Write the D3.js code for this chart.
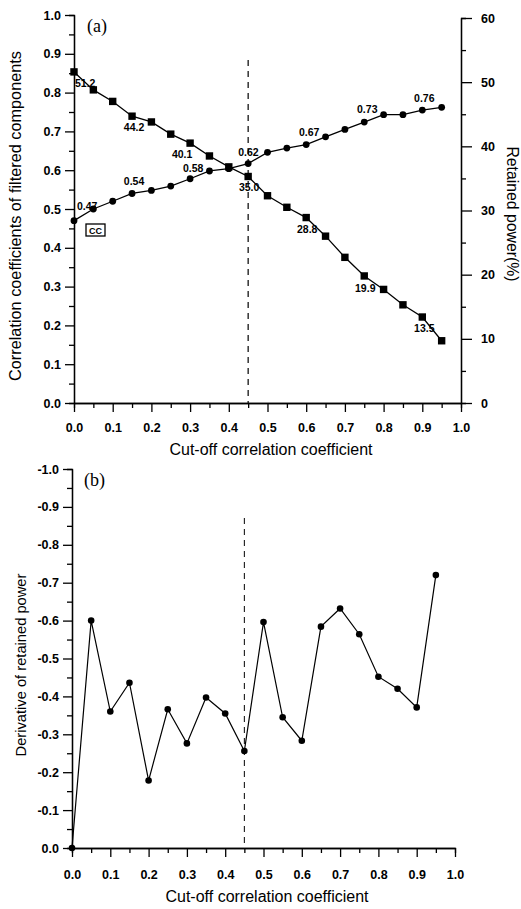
<!DOCTYPE html>
<html>
<head>
<meta charset="utf-8">
<script src="https://cdn.jsdelivr.net/npm/d3@7"></script>
<style>
  body { margin: 0; background: #fff; }
  svg { display: block; }
  .tick text { font-family: "Liberation Sans", Arial, sans-serif; font-weight: bold; font-size: 12.5px; fill: #000; }
  .domain, .tick line { stroke: #000; stroke-width: 1.3px; }
</style>
</head>
<body>
<div class="container"></div>
<script>
// datos
const cutoff = [0, 0.05, 0.1, 0.15, 0.2, 0.25, 0.3, 0.35, 0.4, 0.45, 0.5, 0.55, 0.6, 0.65, 0.7, 0.75, 0.8, 0.85, 0.9, 0.95]
const corrCoef = [0.47, 0.50, 0.52, 0.54, 0.548, 0.559, 0.578, 0.598, 0.604, 0.617, 0.646, 0.657, 0.666, 0.686, 0.705, 0.724, 0.743, 0.743, 0.755, 0.762]
const retained = [51.6, 48.8, 47.0, 44.7, 43.8, 41.9, 40.5, 38.5, 36.8, 35.3, 32.3, 30.5, 28.9, 26.0, 22.7, 19.8, 17.7, 15.3, 13.4, 9.7]
const derivative = [0, -0.60, -0.36, -0.436, -0.178, -0.366, -0.276, -0.397, -0.355, -0.256, -0.596, -0.345, -0.283, -0.584, -0.632, -0.564, -0.452, -0.42, -0.371, -0.72]
const corrLabels = ["0.47", "0.54", "0.58", "0.62", "0.67", "0.73", "0.76"]
const powerLabels = ["51.2", "44.2", "40.1", "35.0", "28.8", "19.9", "13.5"]
const labelIdx = [0, 3, 6, 9, 12, 15, 18]
const cutLine = 0.45
const xTicks = [0, 0.1, 0.2, 0.3, 0.4, 0.5, 0.6, 0.7, 0.8, 0.9, 1.0]
const leftTicks = [0, 0.1, 0.2, 0.3, 0.4, 0.5, 0.6, 0.7, 0.8, 0.9, 1.0]
const rightTicks = [0, 10, 20, 30, 40, 50, 60]
const derivTicks = [0, -0.1, -0.2, -0.3, -0.4, -0.5, -0.6, -0.7, -0.8, -0.9, -1.0]

// desplazamientos de las etiquetas respecto al punto
const corrOff = [[3, -11, "start"], [2, -8, "middle"], [3, -7, "middle"], [-10, -8, "start"], [3, -9, "middle"], [3, -9, "middle"], [2, -8, "middle"]]
const powerOff = [[1, 15, "start"], [2, 15, "middle"], [-8, 15, "middle"], [1, 15, "middle"], [1, 15, "middle"], [1, 16, "middle"], [2, 15, "middle"]]

const width = 521
const height = 909
const font = '"Liberation Sans", Arial, sans-serif'
const serif = '"Liberation Serif", "Times New Roman", serif'
const minus = s => s.replace("\u2212", "-")
const f1 = d => minus(d3.format(".1f")(d))

const svg = d3.select(".container").append("svg").attr("width", width).attr("height", height)

// ---------- panel (a) ----------
const xA = d3.scaleLinear().domain([0, 1]).range([74, 461])
const yA = d3.scaleLinear().domain([0, 1]).range([403, 15])
const yR = d3.scaleLinear().domain([0, 60]).range([403, 18])

const gA = svg.append("g").attr("id", "panelA")

gA.append("g").attr("transform", "translate(0,403)")
  .call(d3.axisBottom(xA).tickValues(d3.range(0.05, 1, 0.1)).tickSize(5).tickFormat(""))
gA.append("g").attr("transform", "translate(0,403)")
  .call(d3.axisBottom(xA).tickValues(xTicks).tickSize(9).tickSizeOuter(0).tickPadding(11).tickFormat(f1))

gA.append("g").attr("transform", "translate(74,0)")
  .call(d3.axisLeft(yA).tickValues(d3.range(0.05, 1, 0.1)).tickSize(5).tickFormat(""))
gA.append("g").attr("transform", "translate(74,0)")
  .call(d3.axisLeft(yA).tickValues(leftTicks).tickSize(9).tickSizeOuter(0).tickPadding(4).tickFormat(f1))

gA.append("g").attr("transform", "translate(461,0)")
  .call(d3.axisRight(yR).tickValues(d3.range(5, 60, 10)).tickSize(5).tickFormat(""))
gA.append("g").attr("transform", "translate(461,0)")
  .call(d3.axisRight(yR).tickValues(rightTicks).tickSize(11).tickSizeOuter(0).tickPadding(9).tickFormat(d3.format("d")))

gA.append("line")
  .attr("x1", xA(cutLine)).attr("x2", xA(cutLine)).attr("y1", 60).attr("y2", 403)
  .attr("stroke", "#000").attr("stroke-width", 1.2).attr("stroke-dasharray", "6,5")

const lineCC = d3.line().x((d, i) => xA(cutoff[i])).y(d => yA(d))
const lineRP = d3.line().x((d, i) => xA(cutoff[i])).y(d => yR(d))

gA.append("path").attr("d", lineCC(corrCoef)).attr("fill", "none").attr("stroke", "#000").attr("stroke-width", 1.3)
gA.append("path").attr("d", lineRP(retained)).attr("fill", "none").attr("stroke", "#000").attr("stroke-width", 1.3)

gA.selectAll("circle.cc").data(corrCoef).join("circle")
  .attr("class", "cc")
  .attr("cx", (d, i) => xA(cutoff[i])).attr("cy", d => yA(d)).attr("r", 3.4).attr("fill", "#000")

gA.selectAll("rect.rp").data(retained).join("rect")
  .attr("class", "rp")
  .attr("x", (d, i) => xA(cutoff[i]) - 3.7).attr("y", d => yR(d) - 3.7)
  .attr("width", 7.4).attr("height", 7.4).attr("fill", "#000")

gA.selectAll("text.cclab").data(corrLabels).join("text")
  .attr("class", "cclab")
  .attr("x", (d, i) => xA(cutoff[labelIdx[i]]) + corrOff[i][0])
  .attr("y", (d, i) => yA(corrCoef[labelIdx[i]]) + corrOff[i][1])
  .attr("text-anchor", (d, i) => corrOff[i][2])
  .style("font-family", font).style("font-size", "10.5px").style("font-weight", "bold")
  .text(d => d)

gA.selectAll("text.rplab").data(powerLabels).join("text")
  .attr("class", "rplab")
  .attr("x", (d, i) => xA(cutoff[labelIdx[i]]) + powerOff[i][0])
  .attr("y", (d, i) => yR(retained[labelIdx[i]]) + powerOff[i][1])
  .attr("text-anchor", (d, i) => powerOff[i][2])
  .style("font-family", font).style("font-size", "10.5px").style("font-weight", "bold")
  .text(d => d)

// recuadro CC
gA.append("rect").attr("x", 86).attr("y", 224).attr("width", 19).attr("height", 12)
  .attr("fill", "none").attr("stroke", "#000").attr("stroke-width", 1.3)
gA.append("text").attr("x", 95.5).attr("y", 233.5).attr("text-anchor", "middle")
  .style("font-family", font).style("font-size", "9px").style("font-weight", "bold").text("CC")

gA.append("text").attr("x", 87).attr("y", 32)
  .style("font-family", serif).style("font-size", "18px").text("(a)")

gA.append("text").attr("x", 271).attr("y", 455).attr("text-anchor", "middle")
  .style("font-family", font).style("font-size", "16px").text("Cut-off correlation coefficient")

gA.append("text").attr("transform", "translate(21,216) rotate(-90)").attr("text-anchor", "middle")
  .style("font-family", font).style("font-size", "16.3px").text("Correlation coefficients of filtered components")

gA.append("text").attr("transform", "translate(507,214) rotate(90)").attr("text-anchor", "middle")
  .style("font-family", font).style("font-size", "15.8px").text("Retained power(%)")

// ---------- panel (b) ----------
const xB = d3.scaleLinear().domain([0, 1]).range([72, 455])
const yB = d3.scaleLinear().domain([0, -1]).range([848, 469])

const gB = svg.append("g").attr("id", "panelB")

gB.append("g").attr("transform", "translate(0,848)")
  .call(d3.axisBottom(xB).tickValues(d3.range(0.05, 1, 0.1)).tickSize(5).tickFormat(""))
gB.append("g").attr("transform", "translate(0,848)")
  .call(d3.axisBottom(xB).tickValues(xTicks).tickSize(9).tickSizeOuter(0).tickPadding(13).tickFormat(f1))

gB.append("g").attr("transform", "translate(72,0)")
  .call(d3.axisLeft(yB).tickValues(d3.range(-0.05, -1, -0.1)).tickSize(5).tickFormat(""))
gB.append("g").attr("transform", "translate(72,0)")
  .call(d3.axisLeft(yB).tickValues(derivTicks).tickSize(9).tickSizeOuter(0).tickPadding(4).tickFormat(f1))

gB.append("line")
  .attr("x1", xB(cutLine)).attr("x2", xB(cutLine)).attr("y1", 518).attr("y2", 848)
  .attr("stroke", "#000").attr("stroke-width", 1).attr("stroke-dasharray", "6,5")

const lineD = d3.line().x((d, i) => xB(cutoff[i])).y(d => yB(d))
gB.append("path").attr("d", lineD(derivative)).attr("fill", "none").attr("stroke", "#000").attr("stroke-width", 1.2)

gB.selectAll("circle.dv").data(derivative).join("circle")
  .attr("class", "dv")
  .attr("cx", (d, i) => xB(cutoff[i])).attr("cy", d => yB(d)).attr("r", 3.3).attr("fill", "#000")

gB.append("text").attr("x", 84).attr("y", 486)
  .style("font-family", serif).style("font-size", "18px").text("(b)")

gB.append("text").attr("x", 267).attr("y", 902).attr("text-anchor", "middle")
  .style("font-family", font).style("font-size", "16px").text("Cut-off correlation coefficient")

gB.append("text").attr("transform", "translate(26,665) rotate(-90)").attr("text-anchor", "middle")
  .style("font-family", font).style("font-size", "14.7px").text("Derivative of retained power")
</script>
</body>
</html>
